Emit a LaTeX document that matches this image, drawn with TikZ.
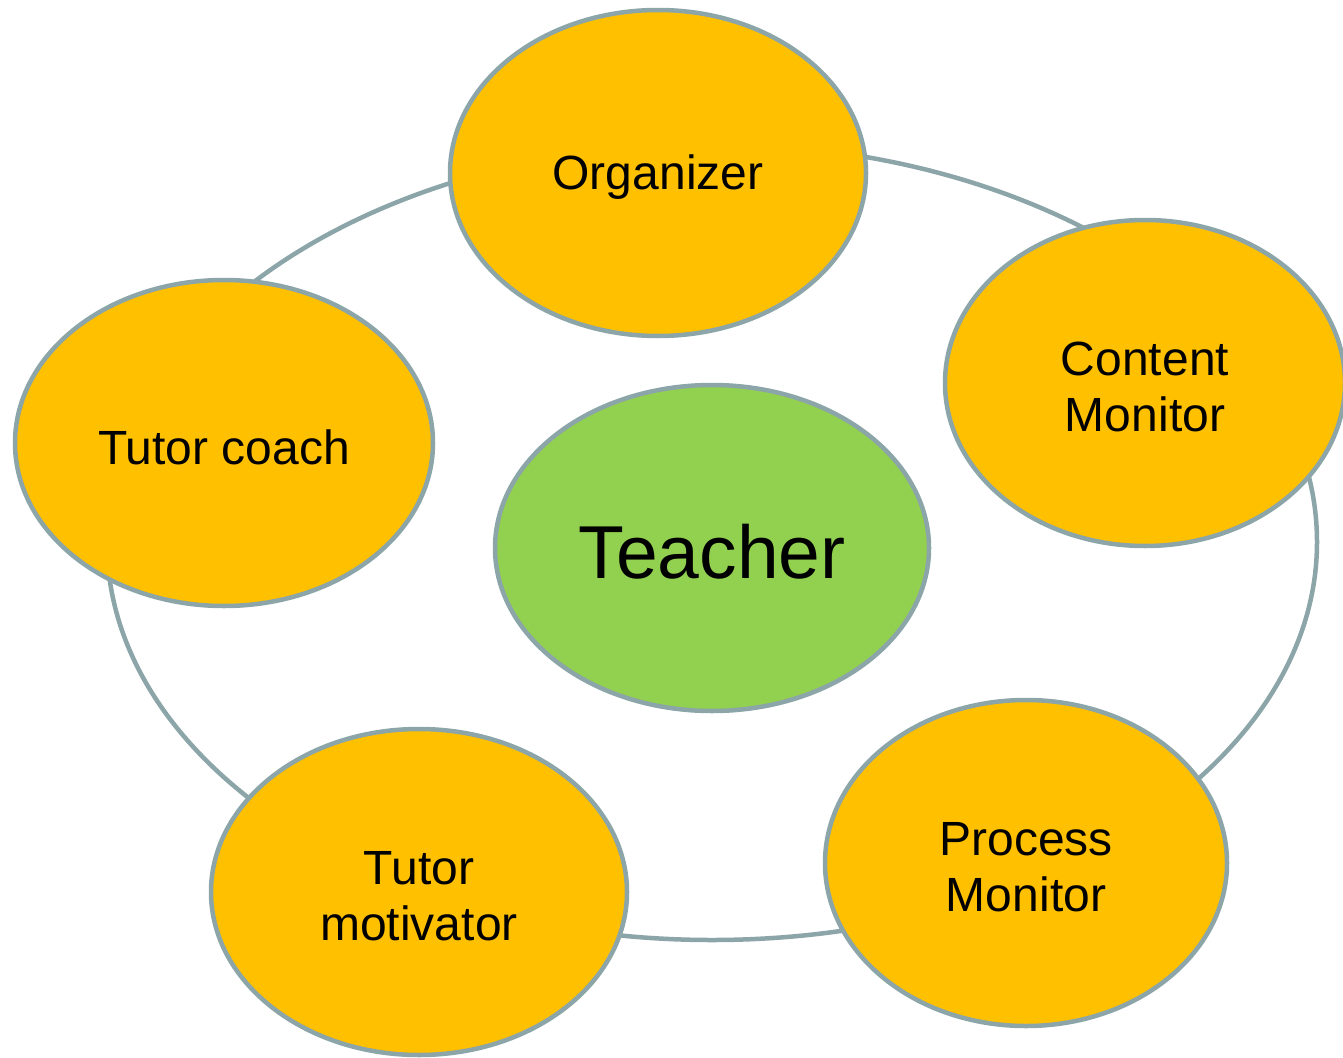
\documentclass[tikz,border=0pt]{standalone}
\usepackage{fontspec}
\setmainfont{Liberation Sans}
\usetikzlibrary{shapes.geometric}
\definecolor{rimgray}{HTML}{8CA5A8}
\definecolor{roleorange}{HTML}{FFC000}
\definecolor{teachgreen}{HTML}{92D050}
\newcommand{\dropit}[1]{\raisebox{-4pt}[\height][\depth]{#1}}
\begin{document}
\begin{tikzpicture}[x=1pt,y=-1pt,
  role/.style={ellipse, draw=rimgray, line width=4.5pt, fill=roleorange, inner sep=0pt,
    minimum width=416pt, minimum height=326pt, align=center,
    font=\fontsize{48}{56}\selectfont},
  ring/.style={draw=rimgray, line width=4.5pt}]
\useasboundingbox (0,0) rectangle (1343,1057);
\coordinate (ringc) at (712,542);
\draw[ring] (ringc) ellipse [x radius=605pt, y radius=398pt];
\node[ellipse, draw=rimgray, line width=4.5pt, fill=teachgreen, inner sep=0pt,
  minimum width=434pt, minimum height=326pt, font=\fontsize{75}{80}\selectfont]
  (teacher) at (712,548) {\dropit{Teacher}};
\node[role] (org) at (658,173) {\dropit{Organizer}};
\node[role, minimum width=400pt] (cm) at (1145,383) {\dropit{Content}\\\dropit{Monitor}};
\node[role, minimum width=402pt] (pm) at (1026,863) {\dropit{Process}\\\dropit{Monitor}};
\node[role] (tm) at (419,892) {\dropit{Tutor}\\\dropit{motivator}};
\node[role, minimum width=418pt] (tc) at (224,443) {\dropit{Tutor coach}};
\end{tikzpicture}
\end{document}
